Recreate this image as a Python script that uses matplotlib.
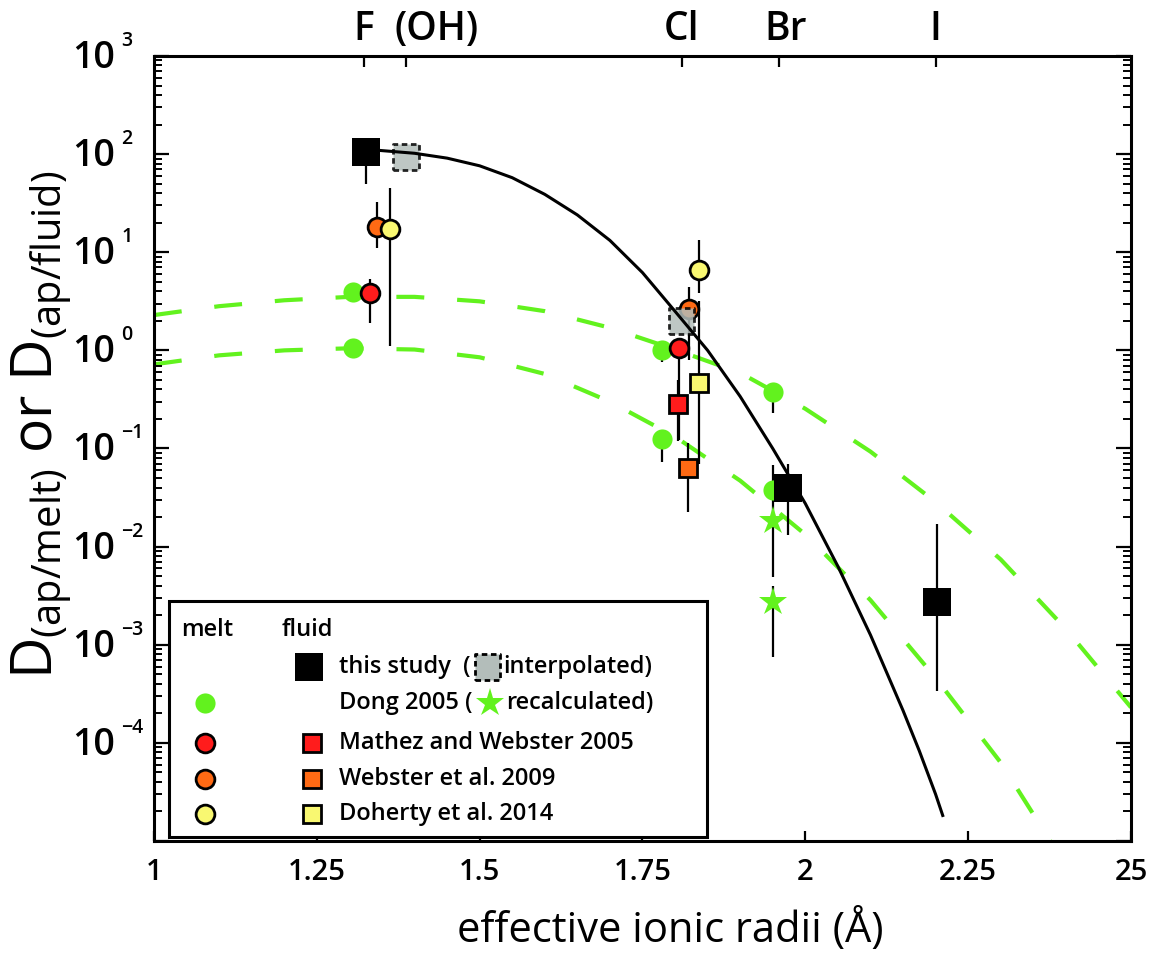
import numpy as np
import matplotlib.pyplot as plt
from matplotlib.patches import Rectangle
from matplotlib.ticker import FixedLocator, FixedFormatter, LogLocator, NullFormatter
from matplotlib.transforms import ScaledTranslation, blended_transform_factory

plt.rcParams['font.family'] = ['Open Sans', 'DejaVu Sans']
plt.rcParams['font.weight'] = 'semibold'
plt.rcParams['mathtext.fontset'] = 'custom'
plt.rcParams['mathtext.rm'] = 'Open Sans:semibold'
plt.rcParams['mathtext.it'] = 'Open Sans:semibold'
plt.rcParams['mathtext.bf'] = 'Open Sans:bold'

GREEN = '#62f21e'
RED = '#ff1c1c'
ORANGE = '#ff6a14'
YELLOW = '#f9f871'
GREY = '#b3bdba'

# top axis: effective radii of the anions
elem_r = [1.322, 1.387, 1.81, 1.96, 2.20]
elem_lbl = ['F', '(OH)', 'Cl', 'Br', 'I']

# y axis decades and their exponents
ydec = [1e-5, 1e-4, 1e-3, 1e-2, 1e-1, 1e0, 1e1, 1e2, 1e3]
yexp = ['', '\u22124', '\u22123', '\u22122', '\u22121', '0', '1', '2', '3']

# lattice strain fit, fluid (black)
fit_r = [1.325, 1.40, 1.45, 1.50, 1.55, 1.60, 1.65, 1.70, 1.75, 1.80,
         1.85, 1.90, 1.95, 2.00, 2.05, 2.10, 2.125, 2.15, 2.175, 2.20, 2.211]
fit_D = [112, 102, 91, 76, 57.5, 38.9, 24, 13.2, 6.2, 2.5,
         1.0, 0.339, 0.1, 0.0275, 0.0063, 0.00126, 5.2e-4, 2.14e-4, 8.3e-5, 3.0e-5, 1.82e-5]

# lattice strain fits, Dong 2005 melt (green dashed)
dong_hi_r = [1.0, 1.1, 1.2, 1.3, 1.4, 1.5, 1.6, 1.7, 1.8, 1.9, 2.0, 2.1, 2.2, 2.3, 2.4, 2.5]
dong_hi_D = [2.29, 2.82, 3.24, 3.51, 3.51, 3.16, 2.51, 1.70, 1.02, 0.59, 0.254, 0.093,
             0.0285, 7.4e-3, 1.45e-3, 2.3e-4]
dong_lo_r = [1.0, 1.1, 1.2, 1.3, 1.4, 1.5, 1.6, 1.7, 1.8, 1.9, 2.0, 2.1, 2.2, 2.3, 2.376, 2.40]
dong_lo_D = [0.72, 0.89, 1.0, 1.05, 1.02, 0.85, 0.575, 0.30, 0.132, 0.047, 0.0133,
             2.85e-3, 4.6e-4, 6.3e-5, 1.0e-5, 5.6e-6]

# melt partition coefficients (circles): r, D, lower, upper
dong_r = [1.306, 1.306, 1.780, 1.780, 1.951, 1.951]
dong_D = [3.95, 1.05, 1.0, 0.124, 0.38, 0.038]
dong_lo = [3.95, 1.05, 0.77, 0.073, 0.228, 0.038]
dong_hi = [3.95, 1.05, 1.0, 0.124, 0.38, 0.068]

mw_melt_r = [1.331, 1.806]
mw_melt_D = [3.81, 1.05]
mw_melt_lo = [1.88, 0.122]
mw_melt_hi = [5.4, 1.3]

web_melt_r = [1.343, 1.821]
web_melt_D = [18.2, 2.62]
web_melt_lo = [11.0, 0.8]
web_melt_hi = [32.7, 4.4]

doh_melt_r = [1.362, 1.837]
doh_melt_D = [17.1, 6.6]
doh_melt_lo = [1.1, 3.8]
doh_melt_hi = [44.8, 13.3]

# fluid partition coefficients (squares / stars)
this_r = [1.325, 1.974, 2.202]
this_D = [106, 0.040, 0.00274]
this_lo = [50, 0.0131, 3.4e-4]
this_hi = [106, 0.069, 0.0169]

interp_r = [1.387, 1.810]
interp_D = [94, 2.0]

mw_fl_r = [1.805]
mw_fl_D = [0.284]
mw_fl_lo = [0.12]
mw_fl_hi = [0.5]

web_fl_r = [1.820]
web_fl_D = [0.063]
web_fl_lo = [0.0226]
web_fl_hi = [0.113]

doh_fl_r = [1.837]
doh_fl_D = [0.468]
doh_fl_lo = [0.07]
doh_fl_hi = [3.2]

star_r = [1.951, 1.951]
star_D = [0.0183, 0.00274]
star_lo = [0.0049, 7.5e-4]
star_hi = [0.038, 0.004]

fig = plt.figure(figsize=(11.57, 9.67), dpi=100)
ax = fig.add_axes([0.1331, 0.1303, 0.8444, 0.8118])
ax.set_yscale('log')


def ebar(r, d, lo, hi):
    r = np.array(r); d = np.array(d)
    err = [d - np.array(lo), np.array(hi) - d]
    ax.errorbar(r, d, yerr=err, fmt='none', ecolor='k', elinewidth=1.6, capsize=0, zorder=2)


ax.plot(dong_hi_r, dong_hi_D, color=GREEN, lw=3, ls=(0, (6.7, 7.9)), zorder=1)
ax.plot(dong_lo_r, dong_lo_D, color=GREEN, lw=3, ls=(0, (6.7, 7.9)), zorder=1)

for r, d, lo, hi in [(dong_r, dong_D, dong_lo, dong_hi),
                     (mw_melt_r, mw_melt_D, mw_melt_lo, mw_melt_hi),
                     (web_melt_r, web_melt_D, web_melt_lo, web_melt_hi),
                     (doh_melt_r, doh_melt_D, doh_melt_lo, doh_melt_hi),
                     (this_r, this_D, this_lo, this_hi),
                     (mw_fl_r, mw_fl_D, mw_fl_lo, mw_fl_hi),
                     (web_fl_r, web_fl_D, web_fl_lo, web_fl_hi),
                     (doh_fl_r, doh_fl_D, doh_fl_lo, doh_fl_hi),
                     (star_r, star_D, star_lo, star_hi)]:
    ebar(r, d, lo, hi)

ax.plot(dong_r, dong_D, 'o', ms=14.5, mfc=GREEN, mec=GREEN, mew=0, zorder=3)
ax.plot(star_r, star_D, '*', ms=21, mfc=GREEN, mec=GREEN, mew=0, zorder=3)
ax.plot(mw_melt_r, mw_melt_D, 'o', ms=13.5, mfc=RED, mec='k', mew=2, zorder=4)
ax.plot(web_melt_r, web_melt_D, 'o', ms=13.5, mfc=ORANGE, mec='k', mew=2, zorder=4)
ax.plot(doh_melt_r, doh_melt_D, 'o', ms=13.5, mfc=YELLOW, mec='k', mew=2, zorder=4)
ax.plot(mw_fl_r, mw_fl_D, 's', ms=13, mfc=RED, mec='k', mew=2, zorder=4)
ax.plot(web_fl_r, web_fl_D, 's', ms=13, mfc=ORANGE, mec='k', mew=2, zorder=4)
ax.plot(doh_fl_r, doh_fl_D, 's', ms=13, mfc=YELLOW, mec='k', mew=2, zorder=4)
ax.scatter(interp_r, interp_D, marker='s', s=18.5 ** 2, facecolor=GREY, edgecolor='k',
           linewidths=2.0, linestyle=(0, (2, 1.3)), alpha=0.85, zorder=5)
ax.plot(fit_r, fit_D, color='k', lw=2.2, zorder=6)
ax.plot(this_r, this_D, 's', ms=19.5, mfc='k', mec='k', mew=0, zorder=7)

# axes
ax.set_xlim(1, 2.5)
ax.set_ylim(1e-5, 1e3)
for s in ax.spines.values():
    s.set_linewidth(2.2)

ax.xaxis.set_major_locator(FixedLocator([1, 1.25, 1.5, 1.75, 2, 2.25, 2.5]))
ax.xaxis.set_major_formatter(FixedFormatter(['1', '1.25', '1.5', '1.75', '2', '2.25', '25']))
ax.tick_params(axis='x', which='major', direction='in', length=7, width=1.6,
               labelsize=21, pad=12, top=False)

ax.yaxis.set_major_locator(FixedLocator(ydec))
ax.yaxis.set_major_formatter(NullFormatter())
ax.yaxis.set_minor_locator(LogLocator(base=10, subs=np.arange(2, 10), numticks=20))
ax.yaxis.set_minor_formatter(NullFormatter())
ax.tick_params(axis='y', which='major', direction='in', length=11, width=1.6, right=True)
ax.tick_params(axis='y', which='minor', direction='in', length=6, width=1.4, right=True)

# y tick labels as "10" with a small raised exponent
bt = blended_transform_factory(ax.transAxes, ax.transData)
for yv, ex in zip(ydec, yexp):
    if not ex:
        continue
    ax.text(0, yv, '10', fontsize=27, ha='right', va='center',
            transform=bt + ScaledTranslation(-0.39, -0.02, fig.dpi_scale_trans))
    ax.text(0, yv, ex, fontsize=14, ha='left', va='center',
            transform=bt + ScaledTranslation(-0.33, 0.15, fig.dpi_scale_trans))

top = ax.twiny()
top.set_xlim(ax.get_xlim())
top.set_xticks(elem_r)
top.set_xticklabels(elem_lbl)
top.tick_params(axis='x', direction='in', length=8, width=1.6, labelsize=28, pad=4)
for s in top.spines.values():
    s.set_visible(False)
lbls = top.get_xticklabels()
lbls[1].set_ha('left')
lbls[1].set_transform(lbls[1].get_transform() + ScaledTranslation(-0.12, 0, fig.dpi_scale_trans))
lbls[3].set_transform(lbls[3].get_transform() + ScaledTranslation(0.06, 0, fig.dpi_scale_trans))

ax.set_xlabel('effective ionic radii (Å)', fontsize=30)
ax.xaxis.label.set_va('center')
ax.xaxis.set_label_coords(0.528, -0.113)
ax.set_ylabel(r'D$_{\mathregular{(ap/melt)}}$ or D$_{\mathregular{(ap/fluid)}}$', fontsize=41)
ax.yaxis.label.set_va('center')
ax.yaxis.set_label_coords(-0.115, 0.53)

# legend drawn by hand
T = ax.transAxes


def lx(px):
    return (px - 154) / 977


def ly(py):
    return (841 - py) / 785


ax.add_patch(Rectangle((lx(169), ly(837)), lx(707) - lx(169), ly(601.5) - ly(837),
                       transform=T, facecolor='white', edgecolor='k', lw=2.2, zorder=8))
fs = 17
kw = dict(transform=T, fontsize=fs, va='center', ha='left', zorder=9)
ax.text(lx(181), ly(630), 'melt', **kw)
ax.text(lx(282), ly(630), 'fluid', **kw)
rows = [667, 703.5, 743.3, 779, 814.5]
ax.plot(lx(309), ly(rows[0]), 's', ms=19.5, mfc='k', mec='k', mew=0, transform=T, zorder=9)
ax.text(lx(339), ly(rows[0]), 'this study', **kw)
ax.text(lx(463), ly(rows[0]), '(', **kw)
ax.scatter([lx(487.5)], [ly(rows[0])], marker='s', s=18.5 ** 2, facecolor=GREY, edgecolor='k',
           linewidths=2.0, linestyle=(0, (2, 1.3)), transform=T, zorder=9)
ax.text(lx(503), ly(rows[0]), 'interpolated)', **kw)
ax.plot(lx(205.5), ly(rows[1]), 'o', ms=14.5, mfc=GREEN, mec=GREEN, mew=0, transform=T, zorder=9)
ax.text(lx(339), ly(rows[1]), 'Dong 2005 (', **kw)
ax.plot(lx(490), ly(rows[1]), '*', ms=21, mfc=GREEN, mec=GREEN, mew=0, transform=T, zorder=9)
ax.text(lx(506), ly(rows[1]), 'recalculated)', **kw)
for yy, col, name in [(rows[2], RED, 'Mathez and Webster 2005'),
                      (rows[3], ORANGE, 'Webster et al. 2009'),
                      (rows[4], YELLOW, 'Doherty et al. 2014')]:
    ax.plot(lx(205.5), ly(yy), 'o', ms=13.5, mfc=col, mec='k', mew=2, transform=T, zorder=9)
    ax.plot(lx(312.3), ly(yy), 's', ms=13, mfc=col, mec='k', mew=2, transform=T, zorder=9)
    ax.text(lx(339), ly(yy), name, **kw)

fig.savefig('out.png', dpi=100)
